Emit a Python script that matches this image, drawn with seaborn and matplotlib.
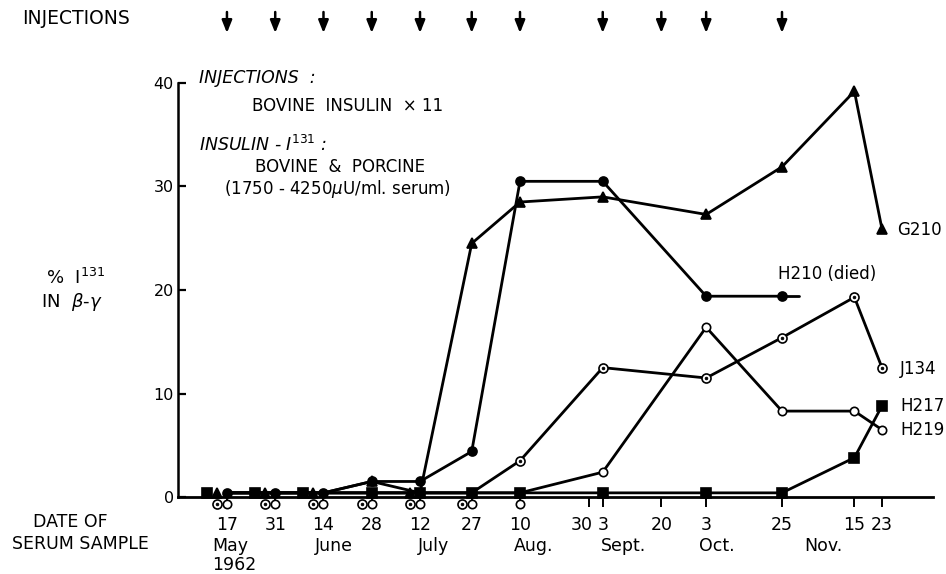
import numpy as np
import pandas as pd
import matplotlib
matplotlib.use("Agg")
import matplotlib.pyplot as plt
import matplotlib.transforms as mtransforms
import seaborn as sns

# ---------------- data ----------------
sample_dates = ["1962-05-17", "1962-05-31", "1962-06-14", "1962-06-28", "1962-07-12", "1962-07-27",
                "1962-08-10", "1962-09-03", "1962-10-03", "1962-10-25", "1962-11-15", "1962-11-23"]
G210 = [0.4, 0.4, 0.4, 1.5, 0.4, 24.5, 28.5, 29.0, 27.3, 31.9, 39.2, 25.9]
H210 = [0.4, 0.4, 0.4, 1.5, 1.5, 4.4, 30.5, 30.5, 19.4, 19.4, np.nan, np.nan]
J134 = [0.4, 0.4, 0.4, 0.4, 0.4, 0.4, 3.5, 12.5, 11.5, 15.4, 19.3, 12.5]
H217 = [0.4, 0.4, 0.4, 0.4, 0.4, 0.4, 0.4, 0.4, 0.4, 0.4, 3.8, 8.8]
H219 = [0.4, 0.4, 0.4, 0.4, 0.4, 0.4, 0.4, 2.4, 16.4, 8.3, 8.3, 6.5]

tick_dates = ["1962-05-17", "1962-05-31", "1962-06-14", "1962-06-28", "1962-07-12", "1962-07-27",
              "1962-08-10", "1962-08-30", "1962-09-03", "1962-09-20", "1962-10-03", "1962-10-25",
              "1962-11-15", "1962-11-23"]
tick_labels = ["17", "31", "14", "28", "12", "27", "10", "30", "3", "20", "3", "25", "15", "23"]
injection_dates = ["1962-05-17", "1962-05-31", "1962-06-14", "1962-06-28", "1962-07-12", "1962-07-27",
                   "1962-08-10", "1962-09-03", "1962-09-20", "1962-10-03", "1962-10-25"]
month_names = ["May", "June", "July", "Aug.", "Sept.", "Oct.", "Nov."]
month_anchor = ["1962-05-18", "1962-06-17", "1962-07-16", "1962-08-14", "1962-09-09", "1962-10-06", "1962-11-06"]

t0 = pd.Timestamp("1962-05-17")
def to_days(lst):
    return np.array([(pd.Timestamp(d) - t0).days for d in lst], dtype=float)

days = to_days(sample_dates)
tick_days = to_days(tick_dates)
inj_days = to_days(injection_dates)
month_days = to_days(month_anchor)

series = {"G210": G210, "H210": H210, "J134": J134, "H217": H217, "H219": H219}
df = pd.concat([pd.DataFrame({"day": days, "value": v, "series": k}) for k, v in series.items()],
               ignore_index=True).dropna()

# ---------------- figure ----------------
sns.set_style("ticks")
plt.rcParams["font.family"] = ["DejaVu Sans"]
plt.rcParams["mathtext.fontset"] = "dejavusans"
plt.rcParams["text.color"] = "black"
plt.rcParams["axes.labelcolor"] = "black"
plt.rcParams["xtick.color"] = "black"
plt.rcParams["ytick.color"] = "black"
plt.rcParams["axes.edgecolor"] = "black"

W, H = 946, 574
fig = plt.figure(figsize=(W / 100, H / 100), dpi=100)
ax = fig.add_axes([178 / W, 1 - 497 / H, (933 - 178) / W, (497 - 83) / H])

LW = 2.0
sns.lineplot(data=df, x="day", y="value", units="series", estimator=None,
             color="black", lw=LW, ax=ax, legend=False, zorder=2)
# H210 line stub after last sample
h210_last = np.where(~np.isnan(np.array(H210)))[0][-1]
ax.plot([days[h210_last], days[h210_last] + 5], [H210[h210_last], H210[h210_last]],
        color="black", lw=LW, zorder=2)

def off(dx, dy):
    return ax.transData + mtransforms.ScaledTranslation(dx / 100, dy / 100, fig.dpi_scale_trans)

def mark(x, y, marker, ms, face, dx=0, dy=0, mew=1.2):
    ax.plot([x], [y], ls="none", marker=marker, ms=ms, mfc=face, mec="black", mew=mew,
            transform=off(dx, dy), clip_on=False, zorder=4)

base = lambda v: (not np.isnan(v)) and v <= 0.5

for i, d in enumerate(days):
    dx = -20 if (base(G210[i]) and base(H210[i])) else 0
    mark(d, H217[i], "s", 6.5, "black", dx=dx)
    mark(d, G210[i], "^", 7.5, "black", dx=-10 if base(G210[i]) else 0)
    if not np.isnan(H210[i]):
        mark(d, H210[i], "o", 6.5, "black")
    if base(J134[i]):
        mark(d, J134[i], "o", 6.5, "white", dx=-10, dy=-11)
        mark(d, J134[i], "o", 2.0, "black", dx=-10, dy=-11, mew=0.5)
    else:
        mark(d, J134[i], "o", 6.5, "white")
        mark(d, J134[i], "o", 2.0, "black", mew=0.5)
    if base(H219[i]):
        mark(d, H219[i], "o", 6.0, "white", dy=-11)
    else:
        mark(d, H219[i], "o", 6.0, "white")

ax.set_xlim(-14.2, 204.8)
ax.set_ylim(0, 40)
for s in ["top", "right"]:
    ax.spines[s].set_visible(False)
ax.spines["left"].set_linewidth(1.8)
ax.spines["bottom"].set_linewidth(2.0)

ax.set_yticks([0, 10, 20, 30, 40])
ax.set_yticklabels(["0", "10", "20", "30", "40"])
ax.tick_params(axis="y", direction="in", length=6, width=1.6, labelsize=11.5, pad=3)
ax.set_xticks(tick_days)
ax.set_xticklabels(tick_labels)
ax.tick_params(axis="x", direction="out", length=7, width=1.4, labelsize=12.5, pad=7)
for lbl in ax.get_xticklabels():
    if lbl.get_text() == "30":
        lbl.set_transform(lbl.get_transform() + mtransforms.ScaledTranslation(-0.07, 0, fig.dpi_scale_trans))
ax.set_xlabel("")
ax.set_ylabel("")

# month labels
btrans = mtransforms.blended_transform_factory(ax.transData, fig.transFigure)
for name, md in zip(month_names, month_days):
    ax.text(md, 1 - 546 / H, name, transform=btrans, ha="center", va="center", fontsize=12.5, clip_on=False)
ax.text(month_days[0] + 1, 1 - 565 / H, "1962", transform=btrans, ha="center", va="center",
        fontsize=12.5, clip_on=False)

# injection arrows
for d in inj_days:
    ax.annotate("", xy=(d, 1 - 33 / H), xytext=(d, 1 - 12 / H),
                xycoords=("data", "figure fraction"), textcoords=("data", "figure fraction"),
                arrowprops=dict(arrowstyle="-|>,head_length=0.75,head_width=0.3", lw=1.8,
                                color="black", shrinkA=0, shrinkB=0),
                annotation_clip=False)

def ftxt(x, y, s, **kw):
    fig.text(x / W, 1 - y / H, s, va="center", **kw)

ftxt(22, 19, "INJECTIONS", fontsize=13.5, ha="left")
ftxt(70, 522, "DATE OF", fontsize=12.5, ha="center")
ftxt(80, 544, "SERUM SAMPLE", fontsize=12.5, ha="center")
ftxt(75, 278, r"%  I$^{131}$", fontsize=13, ha="center")
ftxt(72, 302, r"IN  $\beta$-$\gamma$", fontsize=13, ha="center")

ftxt(199, 78, "INJECTIONS  :", fontsize=12.5, ha="left", style="italic")
ftxt(252, 106, "BOVINE  INSULIN  \u00d7 11", fontsize=12, ha="left")
ftxt(199, 145, r"INSULIN - I$^{\mathit{131}}$ :", fontsize=12.5, ha="left", style="italic")
ftxt(255, 167, "BOVINE  &  PORCINE", fontsize=12, ha="left")
ftxt(224, 189, r"(1750 - 4250$\mu$U/ml. serum)", fontsize=12, ha="left")

ftxt(897, 230, "G210", fontsize=12, ha="left")
ftxt(778, 274, "H210 (died)", fontsize=12, ha="left")
ftxt(900, 369, "J134", fontsize=12, ha="left")
ftxt(900, 406, "H217", fontsize=12, ha="left")
ftxt(900, 430, "H219", fontsize=12, ha="left")

fig.savefig("out.png", dpi=100, facecolor="white")
